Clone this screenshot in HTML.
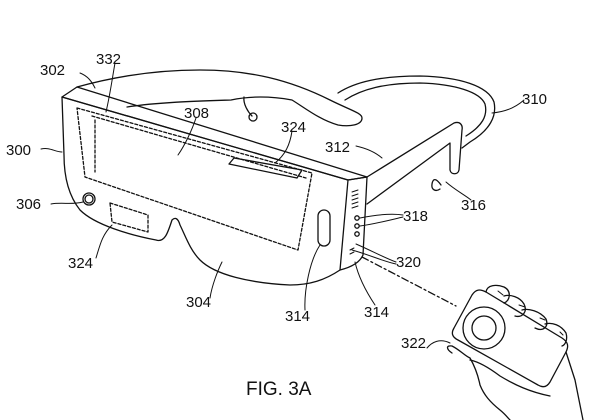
<!DOCTYPE html>
<html><head><meta charset="utf-8"><style>
html,body{margin:0;padding:0;background:#fff;}
svg{display:block}
text{font-family:"Liberation Sans",sans-serif;font-size:15px;fill:#111;}
</style></head><body>
<svg width="600" height="420" viewBox="0 0 600 420" xmlns="http://www.w3.org/2000/svg">
<g fill="none" stroke="#111" stroke-width="1.3" stroke-linejoin="round" stroke-linecap="round">
<path d="M338,93 C355,82 380,76 420,76 C460,77 488,86 494,102 C497,116 490,130 470,142 L462,148"/>
<path d="M345,100 C362,89 385,83 420,83 C455,84 480,92 485,104 C488,116 482,126 466,136"/>
<path d="M77,87 C120,75 160,70 200,70 C250,70 290,80 330,100 C350,110 362,113 362,118 C362,125 350,127 338,125 C320,120 305,108 292,100 C270,96 250,96 231,100 C200,101 160,102 127,107"/>
<path d="M244,97 C243,104 248,112 252,116"/>
<circle cx="253" cy="117" r="4"/>
<path d="M62,97 L77,87 L367,177 L348,180 Z"/>
<path d="M62,97 L348,180 L340,270 C325,280 310,285 290,285 C250,283 215,275 200,260 C190,250 185,235 180,225 C178,218 175,217 172,220 C168,232 165,243 156,240 C130,235 95,225 80,210 C68,195 64,175 64,155 Z"/>
<path d="M348,180 L367,177 L363,255 C360,262 352,267 340,270"/>
<path d="M367,177 L454,123 C460,121 463,125 462,130 L459,170 C458,175 451,175 450,170 L450,143 L367,204"/>
<path d="M441,185 C436,178 433,178 432,184 C431,190 436,192 440,189"/>
<path stroke-dasharray="3,2" d="M77,108 L312,173 L298,250 L85,177 Z"/>
<path stroke-dasharray="3,2" d="M92,116 L306,178 M95,120 L95,172"/>
<path d="M234,158 L302,170 L297,178 L229,164 Z"/>
<path stroke-dasharray="3,2" d="M110,203 L148,215 L148,232 L112,222 Z"/>
<circle cx="89" cy="199" r="6"/><circle cx="89" cy="199" r="4"/>
<rect x="318" y="210" width="12" height="36" rx="6"/>
<circle cx="357" cy="218" r="2.2"/><circle cx="357" cy="226" r="2.2"/><circle cx="357" cy="234" r="2.2"/>
<path d="M352,192 l6,-2 M352,196 l6,-2 M352,200 l6,-2 M352,204 l6,-2 M352,208 l6,-2" stroke-width="1"/>
<path d="M350,250 l4,-2 M350,254 l4,-2" stroke-width="1"/>
<path stroke-dasharray="7,3,2,3" d="M362,257 L456,306"/>
<path d="M472,295 C476,289 480,289 486,292 L562,338 C568,342 569,346 566,352 L550,382 C547,387 543,388 538,385 L458,340 C452,337 451,333 454,328 Z"/>
<circle cx="484" cy="328" r="21"/><circle cx="484" cy="328" r="12"/>
<path d="M486,292 C487,285 496,284 504,287 C512,291 510,301 504,303"/>
<path d="M504,296 C510,294 520,297 524,304 C528,312 522,318 515,316"/>
<path d="M522,310 C528,308 540,311 546,319 C549,327 543,332 535,328"/>
<path d="M545,324 C552,322 561,325 566,333 C568,340 565,345 562,346"/>
<path d="M498,291 l5,4 M519,305 l6,2 M540,318 l5,2 M560,332 l3,3" stroke-width="1"/>
<path d="M452,353 C446,349 446,345 452,346 C460,350 465,356 470,358 C474,365 478,375 480,385 C484,395 490,402 500,410 C505,414 508,418 510,420"/>
<path d="M566,352 L575,380 L583,420"/>
<path d="M470,360 C480,362 492,370 500,376 C515,385 530,392 550,396"/>
<path d="M80,73 C88,76 92,82 95,88" stroke-width="1"/>
<path d="M115,63 C112,80 110,95 106,112" stroke-width="1"/>
<path d="M196,118 C192,130 185,145 178,155" stroke-width="1"/>
<path d="M292,131 C290,145 285,155 275,163" stroke-width="1"/>
<path d="M41,149 C50,147 55,152 62,152" stroke-width="1"/>
<path d="M51,204 C62,202 72,205 83,202" stroke-width="1"/>
<path d="M96,258 C100,245 102,235 112,225" stroke-width="1"/>
<path d="M210,298 C212,285 218,270 222,262" stroke-width="1"/>
<path d="M305,310 C304,290 310,260 320,245" stroke-width="1"/>
<path d="M375,305 C365,290 358,275 355,262" stroke-width="1"/>
<path d="M356,146 C365,148 375,152 382,158" stroke-width="1"/>
<path d="M524,100 C515,108 505,112 492,113" stroke-width="1"/>
<path d="M471,200 C465,195 455,190 446,182" stroke-width="1"/>
<path d="M403,215 C390,213 375,215 360,218 M403,217 C390,220 375,224 360,226" stroke-width="1"/>
<path d="M396,262 C385,258 370,250 356,244 M396,264 C385,262 370,255 352,250" stroke-width="1"/>
<path d="M450,343 C440,338 432,342 427,348" stroke-width="1"/>
</g>
<text x="40" y="75">302</text>
<text x="96" y="64">332</text>
<text x="184" y="118">308</text>
<text x="281" y="132">324</text>
<text x="6" y="155">300</text>
<text x="16" y="209">306</text>
<text x="68" y="268">324</text>
<text x="186" y="307">304</text>
<text x="285" y="321">314</text>
<text x="364" y="317">314</text>
<text x="325" y="152">312</text>
<text x="522" y="104">310</text>
<text x="461" y="210">316</text>
<text x="403" y="221">318</text>
<text x="396" y="267">320</text>
<text x="401" y="348">322</text>
<text x="246" y="395" style="font-size:19px">FIG. 3A</text>
</svg>
</body></html>
